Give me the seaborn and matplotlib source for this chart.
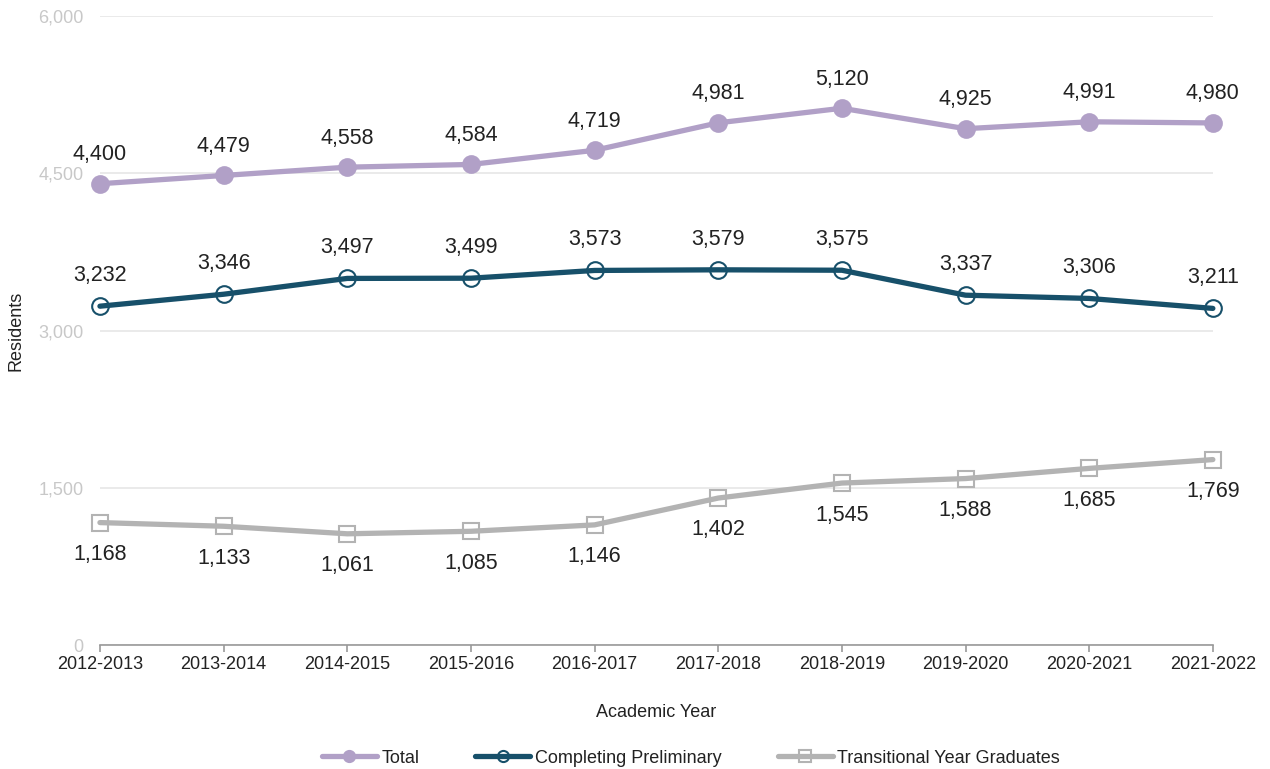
import matplotlib
matplotlib.use("Agg")
import matplotlib.pyplot as plt
import seaborn as sns
import pandas as pd
from matplotlib.ticker import FuncFormatter

years = ["2012-2013", "2013-2014", "2014-2015", "2015-2016", "2016-2017",
         "2017-2018", "2018-2019", "2019-2020", "2020-2021", "2021-2022"]
total = [4400, 4479, 4558, 4584, 4719, 4981, 5120, 4925, 4991, 4980]
completing = [3232, 3346, 3497, 3499, 3573, 3579, 3575, 3337, 3306, 3211]
transitional = [1168, 1133, 1061, 1085, 1146, 1402, 1545, 1588, 1685, 1769]
y_ticks = [0, 1500, 3000, 4500, 6000]

sns.set_theme(style="white")
plt.rcParams["font.family"] = ["Liberation Sans", "DejaVu Sans"]

fig = plt.figure(figsize=(12.7, 7.69), dpi=100)
ax = fig.add_axes([0.0787, 0.1612, 0.955 - 0.0787, 0.9792 - 0.1612])

series = [
    ("Total", total, "#b1a0c7", "o", "#b1a0c7", 21),
    ("Completing Preliminary", completing, "#17506a", "o", "none", 22),
    ("Transitional Year Graduates", transitional, "#b3b3b3", "s", "none", -23),
]

for name, vals, col, mk, mfc, off in series:
    df = pd.DataFrame({"Academic Year": years, "Residents": vals})
    sns.lineplot(data=df, x="Academic Year", y="Residents", ax=ax, color=col,
                 linewidth=3.8, marker=mk, markersize=12,
                 markerfacecolor=mfc, markeredgecolor=col, markeredgewidth=1.5,
                 label=name, clip_on=False, zorder=3)
    for i, v in enumerate(vals):
        ax.annotate(f"{v:,}", (i, v), xytext=(0, off), textcoords="offset points",
                    ha="center", va="center", fontsize=15.5, color="#222222")

ax.set_xlim(0, len(years) - 1)
ax.set_ylim(0, 6000)
ax.set_yticks(y_ticks)
ax.yaxis.set_major_formatter(FuncFormatter(lambda v, p: f"{int(v):,}"))
ax.grid(axis="y", color="#e6e6e6", linewidth=1.2)
ax.grid(axis="x", visible=False)
for s in ["top", "right", "left"]:
    ax.spines[s].set_visible(False)
ax.spines["bottom"].set_color("#999999")
ax.spines["bottom"].set_linewidth(1.2)
ax.tick_params(axis="x", bottom=True, length=5, color="#999999", width=1.2,
               labelsize=13, labelcolor="#222222", pad=3)
ax.tick_params(axis="y", left=False, length=0, labelsize=13, labelcolor="#c8c8c8", pad=12)
ax.set_xlabel("Academic Year", fontsize=13, color="#222222", labelpad=22)
ax.set_ylabel("Residents", fontsize=13, color="#222222", labelpad=10)

leg = ax.legend(loc="center", bbox_to_anchor=(0.531, -0.180), ncol=3, frameon=False,
                fontsize=13, handlelength=3.05, columnspacing=3.1, handletextpad=0.25)
for t in leg.get_texts():
    t.set_color("#222222")
for h in leg.legend_handles:
    h.set_markersize(8)

fig.savefig("out.png", dpi=100)
